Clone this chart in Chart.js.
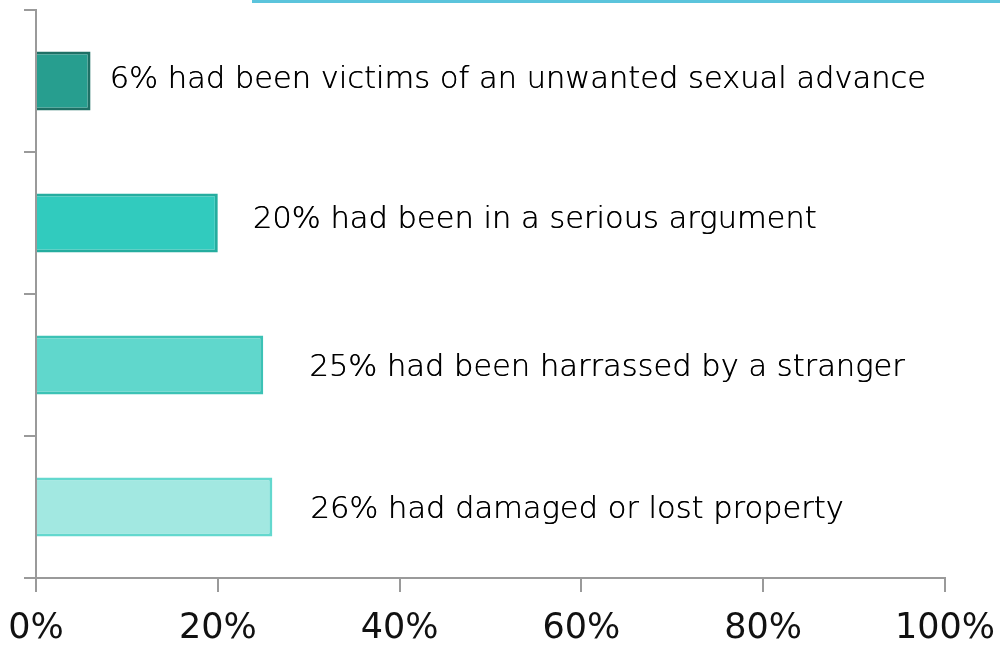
<!DOCTYPE html>
<html>
<head>
<meta charset="utf-8">
<script src="https://cdn.jsdelivr.net/npm/chart.js@4/dist/chart.umd.min.js"></script>
<style>
 html, body { margin: 0; padding: 0; background: #ffffff; }
 #wrap { position: relative; width: 1000px; height: 645px; }
 #incidentChart { display: block; }
 #topLine { position: absolute; left: 252px; top: 0; width: 748px; height: 3px; background: #5bc4dc; }
</style>
</head>
<body>
<div id="wrap">
 <canvas id="incidentChart" width="1000" height="645"></canvas>
 <div id="topLine"></div>
</div>
<script>
'use strict';

// chart data
const categories = ['Unwanted sexual advance', 'Serious argument', 'Harrassed by a stranger', 'Damaged or lost property']
const percentValues = [6, 20, 25, 26]
const barLabels = [
 '6% had been victims of an unwanted sexual advance',
 '20% had been in a serious argument',
 '25% had been harrassed by a stranger',
 '26% had damaged or lost property'
]
const tickValues = [0, 20, 40, 60, 80, 100]

// styles for each bar, dark to light
const barFills = ['#279e8f', '#31cbbe', '#60d7cc', '#a2e8e1']
const barBorders = ['#1e7065', '#25ad9f', '#3cc2b5', '#63d8ce']
// text placement next to each bar: gap after the bar end, and small vertical nudge
const labelGaps = [19, 35, 46, 38]
const labelNudges = [-1, -3, 3, 3]

/**
 * Plugin to write the text label to the right of every bar
 */
const barTextPlugin = {
 id: 'barText',
 afterDatasetsDraw: (chart) => {
  const ctx = chart.ctx
  const meta = chart.getDatasetMeta(0)
  ctx.save()
  ctx.font = '200 30.5px "DejaVu Sans"'
  ctx.fillStyle = '#000000'
  ctx.textAlign = 'left'
  ctx.textBaseline = 'middle'
  meta.data.forEach((bar, i) => {
   const textX = bar.x + labelGaps[i]
   const textY = bar.y + labelNudges[i]
   ctx.fillText(barLabels[i], textX, textY)
   // second pass thickens the thin glyphs a little
   ctx.fillText(barLabels[i], textX + 0.4, textY)
  })
  ctx.restore()
 }
}

// keep edge tick labels from pushing the plot area in
const noScalePadding = (scale) => {
 scale.paddingLeft = 0
 scale.paddingRight = 0
 scale.paddingTop = 0
 scale.paddingBottom = 0
}

const chartElement = document.getElementById('incidentChart')

new Chart(chartElement, {
 type: 'bar',
 data: {
  labels: categories,
  datasets: [{
   data: percentValues,
   backgroundColor: barFills,
   borderColor: barBorders,
   borderWidth: 3,
   barPercentage: 0.415,
   categoryPercentage: 1
  }]
 },
 options: {
  indexAxis: 'y',
  responsive: false,
  animation: false,
  events: [],
  layout: { padding: { top: 10, left: 24, right: 55, bottom: 0 } },
  plugins: {
   legend: { display: false },
   tooltip: { enabled: false }
  },
  scales: {
   x: {
    min: 0,
    max: 100,
    afterBuildTicks: (scale) => {
     scale.ticks = tickValues.map(v => ({ value: v }))
    },
    afterFit: (scale) => {
     noScalePadding(scale)
     // fixed band for the tick marks and labels under the plot
     scale.height = 67
    },
    border: { color: '#9a9a9a', width: 2 },
    grid: { drawOnChartArea: false, tickLength: 14, color: '#9a9a9a', lineWidth: 2 },
    ticks: {
     padding: 18,
     color: '#111111',
     maxRotation: 0,
     font: { family: '"DejaVu Sans"', size: 35, lineHeight: 1.1 },
     callback: (value) => value + '%'
    }
   },
   y: {
    afterFit: noScalePadding,
    border: { color: '#9a9a9a', width: 2 },
    grid: { offset: true, drawOnChartArea: false, tickLength: 12, color: '#9a9a9a', lineWidth: 2 },
    ticks: { display: false }
   }
  }
 },
 plugins: [barTextPlugin]
})
</script>
</body>
</html>
